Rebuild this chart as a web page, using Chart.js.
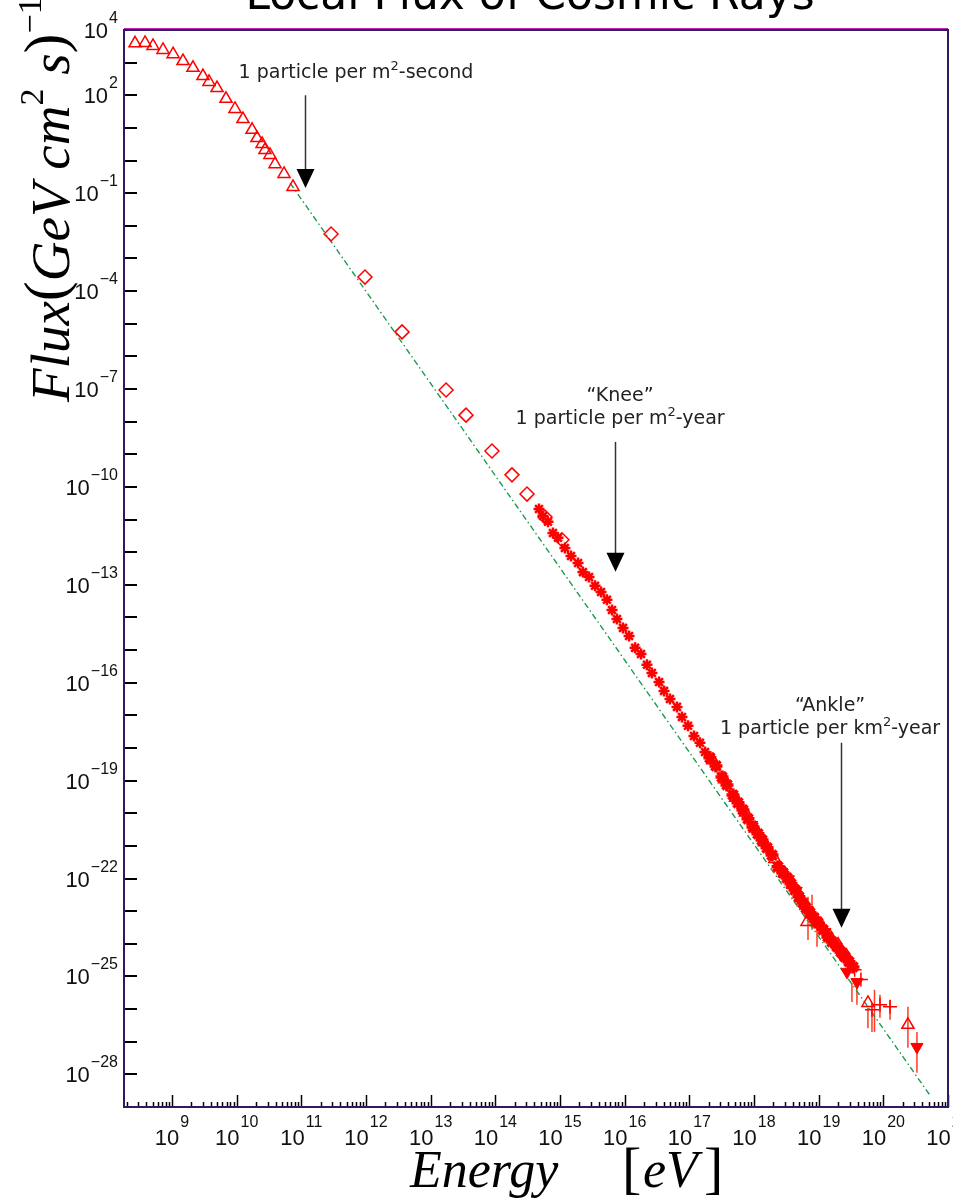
<!DOCTYPE html>
<html>
<head>
<meta charset="utf-8">
<title>Local Flux of Cosmic Rays</title>
<script src="https://cdn.jsdelivr.net/npm/chart.js@4.4.1/dist/chart.umd.min.js"></script>
<style>
  html, body { margin: 0; padding: 0; background: #fff; }
  #wrap { position: relative; width: 976px; height: 1200px; }
</style>
</head>
<body>
<div id="wrap"><canvas id="fluxChart" width="976" height="1200"></canvas></div>
<script>
// axis ranges (energy in eV, flux in (GeV cm^2 s)^-1)
const xMin = 1.81e8, xMax = 1e21;
const yMin = 1e-29, yMax = 1e4;

// tick labels (powers of ten)
const xTickExp = [9, 10, 11, 12, 13, 14, 15, 16, 17, 18, 19, 20, 21];
const yTickExp = [4, 2, -1, -4, -7, -10, -13, -16, -19, -22, -25, -28];

// low energy direct measurements (open triangles)
const triE = [2.68e8, 3.83e8, 5.08e8, 7.26e8, 1.04e9, 1.48e9, 2.11e9, 3.01e9, 3.73e9, 4.97e9, 6.84e9,
              9.42e9, 1.25e10, 1.73e10, 2.06e10, 2.47e10, 2.74e10, 3.27e10, 3.92e10, 5.40e10, 7.43e10];
const triF = [3.9e3, 4.0e3, 3.24e3, 2.45e3, 1.82e3, 1.12e3, 6.92e2, 3.89e2, 2.57e2, 1.66e2, 77.6,
              38.0, 18.6, 8.71, 4.90, 3.24, 2.09, 1.48, 0.776, 0.389, 0.155];

// open diamonds
const diaE = [2.88e11, 9.64e11, 3.61e12, 1.73e13, 3.52e13, 8.87e13, 1.81e14, 3.09e14, 5.86e14, 1.07e15];
const diaF = [5.62e-3, 2.69e-4, 5.62e-6, 9.33e-8, 1.58e-8, 1.26e-9, 2.34e-10, 6.03e-11, 1.20e-11, 2.40e-12];

// air shower asterisks around the knee
const starE = [4.73e14, 5.46e14, 6.52e14, 7.78e14, 9.31e14, 1.19e15, 1.48e15, 1.90e15, 2.26e15, 2.81e15,
               3.48e15, 4.31e15, 5.32e15, 6.37e15, 7.60e15, 9.42e15, 1.17e16, 1.45e16, 1.79e16, 2.21e16,
               2.64e16, 3.40e16, 4.06e16, 5.02e16, 6.44e16, 7.69e16, 9.53e16, 1.18e17, 1.46e17, 1.75e17];
const starF = [2.09e-11, 1.29e-11, 8.51e-12, 3.89e-12, 2.75e-12, 1.35e-12, 7.59e-13, 4.68e-13, 2.45e-13, 1.74e-13,
               9.33e-14, 6.03e-14, 3.47e-14, 1.70e-14, 8.91e-15, 4.79e-15, 2.69e-15, 1.17e-15, 7.59e-16, 3.55e-16,
               2.00e-16, 1.05e-16, 5.62e-17, 3.16e-17, 1.82e-17, 8.91e-18, 4.79e-18, 2.34e-18, 1.45e-18, 7.59e-19];

// dense band above 1e17 eV
const bandE = [2.08e17, 2.58e17, 3.20e17, 3.82e17, 4.73e17, 5.65e17, 6.75e17, 8.07e17, 9.64e17, 1.15e18,
               1.33e18, 1.59e18, 1.90e18, 2.35e18, 2.81e18, 3.24e18, 3.73e18, 4.30e18, 4.95e18, 5.71e18,
               6.37e18, 7.35e18, 8.45e18, 9.75e18, 1.17e19, 1.39e19, 1.61e19, 1.92e19, 2.21e19, 2.55e19,
               2.94e19, 3.39e19];
const bandF = [5.01e-19, 2.82e-19, 1.29e-19, 7.41e-20, 3.63e-20, 2.09e-20, 1.26e-20, 6.76e-21, 3.80e-21, 2.34e-21,
               1.51e-21, 8.71e-22, 5.25e-22, 2.29e-22, 1.48e-22, 1.05e-22, 6.92e-23, 4.47e-23, 2.75e-23, 1.78e-23,
               1.26e-23, 8.91e-24, 6.17e-24, 4.37e-24, 2.69e-24, 1.62e-24, 1.15e-24, 8.13e-25, 5.62e-25, 3.98e-25,
               2.82e-25, 1.95e-25];

// open triangles, high energy
const hiTriE = [2.3e17, 3.5e17, 5.2e17, 7.4e17, 1.05e18, 1.45e18, 2.1e18, 3.0e18, 4.0e18, 5.3e18,
                6.6e18, 8.0e18, 1.08e19, 1.5e19, 2.0e19, 2.7e19, 5.78e19, 2.40e20];
const hiTriF = [4.2e-19, 1.1e-19, 3.0e-20, 1.05e-20, 3.4e-21, 1.3e-21, 4.0e-22, 1.45e-22, 6.5e-23, 2.6e-23,
                4.7e-24, 8.0e-24, 4.0e-24, 1.7e-24, 9.5e-25, 4.3e-25, 1.55e-26, 3.31e-27];

// filled down triangles
const dnE = [3.4e18, 4.5e18, 6.8e18, 9.0e18, 1.25e19, 1.7e19, 2.13e19, 2.74e19, 3.91e19, 3.31e20];
const dnF = [9.5e-23, 4.2e-23, 1.05e-23, 5.0e-24, 2.3e-24, 1.0e-24, 5.25e-25, 1.38e-25, 6.76e-26, 6.92e-28];

// open crosses
const crsE = [9.0e17, 2.6e18, 7.8e18, 1.3e19, 3.6e19, 4.5e19, 6.67e19, 8.87e19, 1.27e20];
const crsF = [5.5e-21, 2.0e-22, 8.5e-24, 2.2e-24, 1.6e-25, 8.0e-26, 9.55e-27, 1.35e-26, 1.17e-26];

// vertical error bars
const errE  = [6.84e18, 7.89e18, 9.42e18, 3.27e19, 3.91e19, 5.78e19, 6.67e19, 7.3e19, 8.87e19, 1.27e20, 2.40e20, 3.31e20];
const errLo = [1.32e-24, 2.7e-24, 8.1e-25, 1.66e-26, 1.35e-26, 2.6e-27, 2.0e-27, 2.0e-27, 5.4e-27, 4.7e-27, 6.5e-28, 1.12e-28];
const errHi = [2.75e-23, 3.16e-23, 8.9e-24, 6.3e-26, 5.5e-26, 1.1e-26, 9.5e-27, 3.9e-26, 2.75e-26, 1.9e-26, 1.17e-26, 2.0e-27];

// power law guide (green dash-dot)
const fitE = [6.7e10, 5.25e20];
const fitF = [2.04e-1, 2.3e-29];

// annotations
const noteText = [
    ['1 particle per m^2-second'],
    ['\u201CKnee\u201D', '1 particle per m^2-year'],
    ['\u201CAnkle\u201D', '1 particle per km^2-year']
];
const noteE = [7.0e11, 8.5e15, 1.5e19];
const noteF = [3.4e2, 4.3e-8, 1.38e-17];
const arrowE = [1.14e11, 7.08e15, 2.21e19];
const arrowTop = [1.0e2, 2.4e-9, 1.45e-18];
const arrowTip = [1.44e-1, 2.5e-13, 3.1e-24];

const red = '#ff0000';
const numFont = '22px "Liberation Sans", Arial, sans-serif';
const expFont = '16px "Liberation Sans", Arial, sans-serif';

function pts(xs, ys) {
    return xs.map((v, i) => ({ x: v, y: ys[i] }));
}

function line(ctx, x0, y0, x1, y1) {
    ctx.beginPath();
    ctx.moveTo(x0, y0);
    ctx.lineTo(x1, y1);
    ctx.stroke();
}

// text with ^N superscripts, centred on cx
function drawSup(ctx, str, cx, by, size) {
    const parts = str.split(/\^(\S)/);
    const big = size + 'px "DejaVu Sans", sans-serif';
    const small = Math.round(size * 0.7) + 'px "DejaVu Sans", sans-serif';
    let w = 0;
    parts.forEach((p, i) => { ctx.font = i % 2 ? small : big; w += ctx.measureText(p).width; });
    let x = cx - w / 2;
    parts.forEach((p, i) => {
        ctx.font = i % 2 ? small : big;
        ctx.fillText(p, x, i % 2 ? by - size * 0.42 : by);
        x += ctx.measureText(p).width;
    });
}

function expText(e) {
    return e < 0 ? '\u2212' + (-e) : String(e);
}

function powWidth(ctx, e) {
    ctx.font = numFont;
    const w1 = ctx.measureText('10').width;
    ctx.font = expFont;
    return w1 + 1 + ctx.measureText(expText(e)).width;
}

function powLabel(ctx, e, xLeft, yBase, yExp) {
    ctx.font = numFont;
    ctx.fillText('10', xLeft, yBase);
    const w1 = ctx.measureText('10').width;
    ctx.font = expFont;
    ctx.fillText(expText(e), xLeft + w1 + 1, yExp);
}

const decor = {
    id: 'decor',
    beforeDatasetsDraw(chart) {
        const { ctx, scales: { x, y } } = chart;
        ctx.save();
        ctx.strokeStyle = '#ff3a20';
        ctx.lineWidth = 1.5;
        errE.forEach((e, i) => {
            const px = x.getPixelForValue(e);
            line(ctx, px, y.getPixelForValue(errHi[i]), px, y.getPixelForValue(errLo[i]));
        });
        ctx.restore();
    },
    afterDraw(chart) {
        const { ctx, chartArea: { left, right, top, bottom }, scales: { x, y } } = chart;
        ctx.save();

        // tick marks, pointing inwards
        ctx.strokeStyle = '#000';
        ctx.lineWidth = 1.5;
        for (let d = 8; d <= 21; d++) {
            for (let m = 1; m <= 9; m++) {
                const v = m * Math.pow(10, d);
                if (v < x.min || v > x.max * 1.0001) continue;
                const px = Math.round(x.getPixelForValue(v)) + 0.5;
                line(ctx, px, bottom, px, bottom - (m === 1 ? 12 : 5));
            }
        }
        ctx.lineWidth = 2;
        for (let e = -29; e <= 4; e++) {
            const py = Math.round(y.getPixelForValue(Math.pow(10, e)));
            line(ctx, left, py, left + 13, py);
        }

        // frame
        ctx.strokeStyle = '#2e1a5c';
        ctx.lineWidth = 2;
        ctx.strokeRect(left, top, right - left, bottom - top);
        ctx.strokeStyle = '#c020c0';
        ctx.lineWidth = 1;
        line(ctx, left, top - 1.5, right, top - 1.5);

        // tick labels
        ctx.fillStyle = '#111';
        ctx.textBaseline = 'alphabetic';
        ctx.textAlign = 'left';
        yTickExp.forEach(e => {
            const py = y.getPixelForValue(Math.pow(10, e));
            powLabel(ctx, e, left - 6 - powWidth(ctx, e), py + 8, py - 7);
        });
        ctx.save();
        ctx.beginPath();
        ctx.rect(0, bottom + 2, 953, 60);
        ctx.clip();
        xTickExp.forEach(e => {
            const px = x.getPixelForValue(Math.pow(10, e));
            powLabel(ctx, e, px - powWidth(ctx, e) / 2, 1145, 1127);
        });
        ctx.restore();

        // title (runs off the top edge)
        ctx.fillStyle = '#000';
        ctx.textAlign = 'center';
        ctx.font = '44px "DejaVu Sans", sans-serif';
        ctx.fillText('Local Flux of Cosmic Rays', 530, 9);

        // x axis title
        ctx.textAlign = 'left';
        ctx.font = 'italic 52px "Liberation Serif", "DejaVu Serif", serif';
        ctx.fillText('Energy', 410, 1187);
        ctx.font = '58px "Liberation Serif", "DejaVu Serif", serif';
        ctx.fillText('[', 622, 1187);
        ctx.fillText(']', 704, 1187);
        ctx.font = 'italic 52px "Liberation Serif", "DejaVu Serif", serif';
        ctx.fillText('eV', 643, 1187);

        // y axis title, rotated
        ctx.save();
        ctx.translate(69, 402);
        ctx.rotate(-Math.PI / 2);
        const it = 'italic 55px "Liberation Serif", "DejaVu Serif", serif';
        const par = '60px "Liberation Serif", "DejaVu Serif", serif';
        const sup = '34px "Liberation Serif", "DejaVu Serif", serif';
        const segs = [
            ['Flux', it, 0], ['(', par, -4], ['GeV', it, 0], [' cm', it, 0], ['2', sup, -26],
            [' s', it, 0], [')', par, -4], ['\u22121', sup, -28]
        ];
        let tx = 0;
        segs.forEach(([t, f, dy]) => {
            ctx.font = f;
            ctx.fillText(t, tx, dy);
            tx += ctx.measureText(t).width;
        });
        ctx.restore();

        // annotations with arrows
        noteText.forEach((lines, i) => {
            ctx.fillStyle = '#222';
            const cx = x.getPixelForValue(noteE[i]);
            let by = y.getPixelForValue(noteF[i]);
            lines.forEach(str => {
                drawSup(ctx, str, cx, by, 19);
                by += 23;
            });
            const ax = Math.round(x.getPixelForValue(arrowE[i])) + 0.5;
            const y0 = y.getPixelForValue(arrowTop[i]);
            const y1 = y.getPixelForValue(arrowTip[i]);
            ctx.strokeStyle = '#333';
            ctx.lineWidth = 1.5;
            line(ctx, ax, y0, ax, y1 - 18);
            ctx.fillStyle = '#000';
            ctx.beginPath();
            ctx.moveTo(ax - 9, y1 - 19);
            ctx.lineTo(ax + 9, y1 - 19);
            ctx.lineTo(ax, y1);
            ctx.closePath();
            ctx.fill();
        });

        ctx.restore();
    }
};

const ctx = document.getElementById('fluxChart').getContext('2d');
new Chart(ctx, {
    type: 'scatter',
    data: {
        datasets: [
            { data: pts(dnE, dnF), pointStyle: 'triangle', rotation: 180, pointRadius: 7,
              backgroundColor: red, borderColor: red, borderWidth: 1 },
            { data: pts(bandE, bandF), pointStyle: 'star', pointRadius: 6.5,
              borderColor: red, backgroundColor: red, borderWidth: 3.5 },
            { data: pts(hiTriE, hiTriF), pointStyle: 'triangle', pointRadius: 7,
              borderColor: red, backgroundColor: 'rgba(255,255,255,0)', borderWidth: 1.5 },
            { data: pts(crsE, crsF), pointStyle: 'cross', pointRadius: 7,
              borderColor: red, borderWidth: 1.5 },
            { data: pts(starE, starF), pointStyle: 'star', pointRadius: 5.5,
              borderColor: red, backgroundColor: red, borderWidth: 2.5 },
            { data: pts(diaE, diaF), pointStyle: 'rectRot', pointRadius: 7,
              borderColor: red, backgroundColor: 'rgba(255,255,255,0)', borderWidth: 1.5 },
            { data: pts(triE, triF), pointStyle: 'triangle', pointRadius: 7,
              borderColor: red, backgroundColor: 'rgba(255,255,255,0)', borderWidth: 1.5 },
            { data: pts(fitE, fitF), showLine: true, pointRadius: 0, borderColor: '#1f9a4f',
              borderWidth: 1.4, borderDash: [6, 3, 1.5, 3], fill: false }
        ]
    },
    options: {
        responsive: false,
        animation: false,
        layout: { padding: { left: 124, right: 28, top: 30, bottom: 93 } },
        plugins: {
            legend: { display: false },
            tooltip: { enabled: false },
            title: { display: false }
        },
        scales: {
            x: {
                type: 'logarithmic', min: xMin, max: xMax,
                ticks: { display: false },
                grid: { display: false, drawTicks: false, tickLength: 0 },
                border: { display: false },
                afterBuildTicks: s => { s.ticks = xTickExp.map(e => ({ value: Math.pow(10, e) })); }
            },
            y: {
                type: 'logarithmic', min: yMin, max: yMax,
                ticks: { display: false },
                grid: { display: false, drawTicks: false, tickLength: 0 },
                border: { display: false },
                afterBuildTicks: s => { s.ticks = yTickExp.map(e => ({ value: Math.pow(10, e) })); }
            }
        }
    },
    plugins: [decor]
});
</script>
</body>
</html>
